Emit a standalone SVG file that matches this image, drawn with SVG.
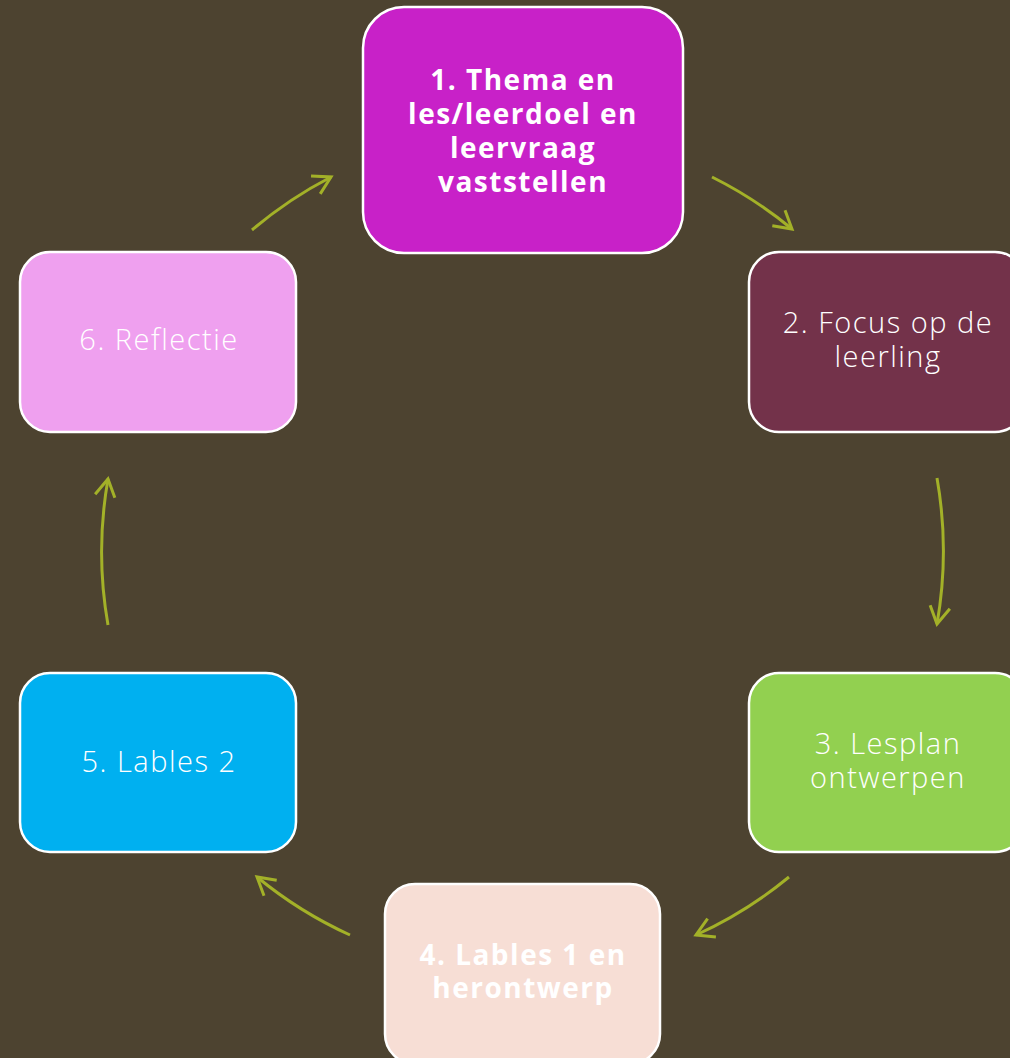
<svg xmlns="http://www.w3.org/2000/svg" width="1010" height="1058" viewBox="0 0 1010 1058">
<style>
.box{stroke:#FFFFFF;stroke-width:2.5}
.lt{font-family:"Open Sans","Noto Sans","Liberation Sans",sans-serif;font-weight:300;font-size:29px;letter-spacing:1.5px;fill:#FFFFFF;text-anchor:middle;font-variant-ligatures:none}
.bd{font-family:"Open Sans","Noto Sans","Liberation Sans",sans-serif;font-weight:700;font-size:28px;letter-spacing:1.5px;fill:#FFFFFF;text-anchor:middle;font-variant-ligatures:none}
.arc{fill:none;stroke:#A3B128;stroke-width:3;marker-end:url(#ah)}
</style>
<defs>
<marker id="ah" markerUnits="userSpaceOnUse" viewBox="-22 -14 26 28" refX="0" refY="0" markerWidth="26" markerHeight="28" orient="auto">
<path d="M-17.3,-10 L0,0 L-17.3,10" fill="none" stroke="#A3B128" stroke-width="3" stroke-linejoin="miter"/>
</marker>
</defs>
<rect width="1010" height="1058" fill="#4D4330"/>
<g id="connectors">
<path class="arc" d="M712,177 A420,420 0 0 1 792,229"/>
<path class="arc" d="M937,478 A421,421 0 0 1 937,624"/>
<path class="arc" d="M789,877 A420,420 0 0 1 696,935"/>
<path class="arc" d="M350,935 A420,420 0 0 1 257,877"/>
<path class="arc" d="M108,625 A421,421 0 0 1 108,479"/>
<path class="arc" d="M252,230 A420,420 0 0 1 331,177"/>
</g>
<g id="node1">
<rect class="box" x="363" y="7" width="320" height="246" rx="41" fill="#C821C8"/>
<text class="bd" x="523" y="90">1. Thema en</text>
<text class="bd" x="523" y="124">les/leerdoel en</text>
<text class="bd" x="523" y="158">leervraag</text>
<text class="bd" x="523" y="192">vaststellen</text>
</g>
<g id="node2">
<rect class="box" x="749" y="252" width="276" height="180" rx="30" fill="#73324A"/>
<text class="lt" x="888" y="333">2. Focus op de</text>
<text class="lt" x="888" y="367">leerling</text>
</g>
<g id="node3">
<rect class="box" x="749" y="673" width="276" height="179" rx="30" fill="#92D050"/>
<text class="lt" x="888" y="754">3. Lesplan</text>
<text class="lt" x="888" y="788">ontwerpen</text>
</g>
<g id="node4">
<rect class="box" x="385" y="884" width="275" height="180" rx="30" fill="#F7DED5"/>
<text class="bd" x="523" y="965">4. Lables 1 en</text>
<text class="bd" x="523" y="998">herontwerp</text>
</g>
<g id="node5">
<rect class="box" x="20" y="673" width="276" height="179" rx="30" fill="#00B0F0"/>
<text class="lt" x="159" y="772">5. Lables 2</text>
</g>
<g id="node6">
<rect class="box" x="20" y="252" width="276" height="180" rx="30" fill="#EFA0EF"/>
<text class="lt" x="159" y="350">6. Reflectie</text>
</g>
</svg>
